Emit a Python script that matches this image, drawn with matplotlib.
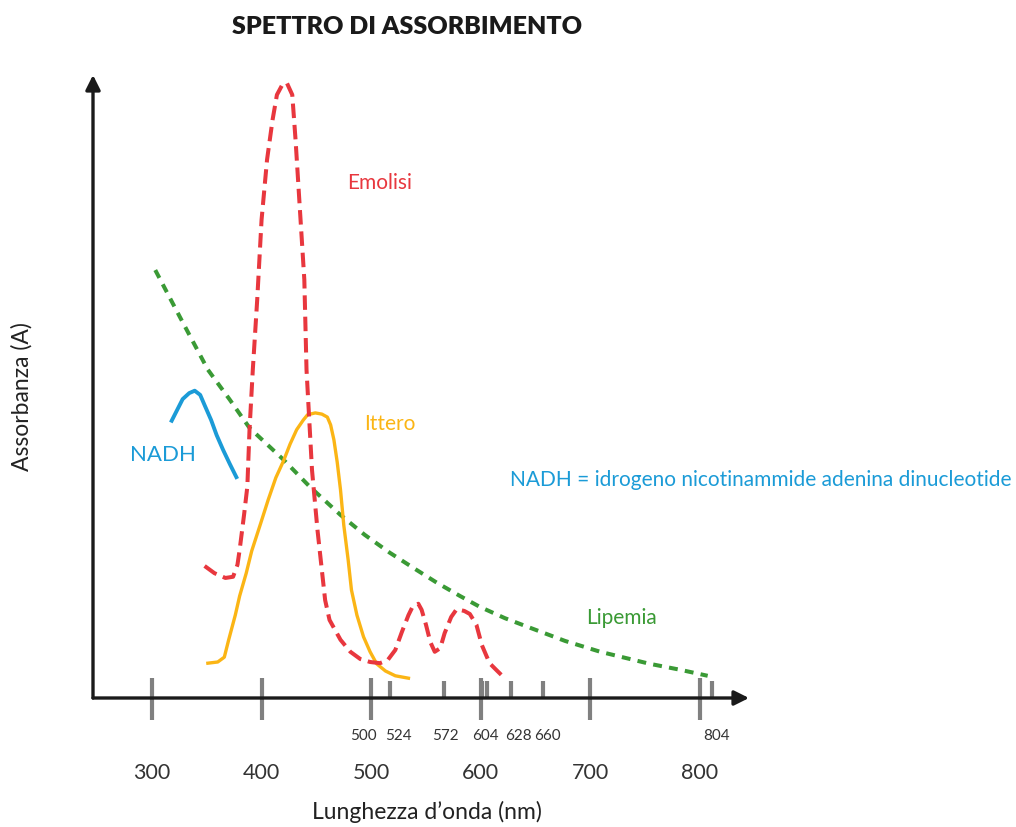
import matplotlib
matplotlib.use("Agg")
import matplotlib.pyplot as plt

plt.rcParams['font.family'] = ['Lato', 'DejaVu Sans']

# --- data (x in nm, y in arbitrary absorbance units) ---
emolisi_x = [348, 357, 367, 374, 378, 380, 384, 387, 389, 392, 396, 400, 405, 410, 414, 419, 423,
             428, 431, 435, 439, 441, 446, 451, 455, 458, 462, 472, 481, 490, 499, 508, 515, 522,
             528, 534, 538, 543, 546, 550, 554, 558, 563, 567, 573, 578, 585, 590, 596, 601, 608,
             614, 619]
emolisi_y = [0.22, 0.208, 0.20, 0.202, 0.222, 0.247, 0.305, 0.352, 0.447, 0.547, 0.663, 0.797, 0.897,
             0.963, 1.005, 1.022, 1.025, 1.005, 0.93, 0.813, 0.697, 0.547, 0.38, 0.28, 0.213, 0.163,
             0.13, 0.097, 0.077, 0.065, 0.06, 0.058, 0.063, 0.08, 0.11, 0.138, 0.153, 0.157, 0.147,
             0.122, 0.093, 0.077, 0.083, 0.108, 0.135, 0.148, 0.145, 0.14, 0.122, 0.088, 0.058,
             0.047, 0.038]

ittero_x = [351, 360, 366, 370, 376, 380, 386, 391, 399, 406, 413, 420, 426, 432, 438, 442, 449, 455,
            460, 463, 466, 469, 472, 475, 479, 482, 487, 493, 499, 505, 513, 522, 534]
ittero_y = [0.058, 0.06, 0.068, 0.097, 0.138, 0.17, 0.208, 0.245, 0.29, 0.33, 0.367, 0.395, 0.423,
            0.447, 0.463, 0.472, 0.475, 0.473, 0.468, 0.455, 0.43, 0.393, 0.347, 0.288, 0.23, 0.18,
            0.138, 0.102, 0.077, 0.057, 0.045, 0.037, 0.033]

nadh_x = [318, 323, 328, 334, 339, 344, 348, 354, 359, 365, 371, 377]
nadh_y = [0.462, 0.48, 0.498, 0.508, 0.512, 0.505, 0.488, 0.463, 0.438, 0.413, 0.39, 0.368]

lipemia_x = [303, 326, 351, 371, 389, 420, 444, 472, 494, 517, 540, 560, 581, 599, 622, 645, 677,
             709, 754, 782, 807]
lipemia_y = [0.713, 0.633, 0.547, 0.497, 0.45, 0.397, 0.352, 0.305, 0.272, 0.242, 0.215, 0.192, 0.17,
             0.152, 0.133, 0.117, 0.095, 0.077, 0.057, 0.047, 0.037]

major_ticks = [300, 400, 500, 600, 700, 800]
minor_ticks = [517, 566, 601, 606, 628, 657, 811]
minor_label_pos = [493, 525, 568, 604, 634, 661, 815]
minor_labels = ['500', '524', '572', '604', '628', '660', '804']

RED = '#e8373e'
YELLOW = '#fbb515'
BLUE = '#1b9bd7'
GREEN = '#3a9a35'
GREY = '#808080'
DARK = '#1a1a1a'
TXT = '#333333'

fig = plt.figure(figsize=(10.16, 8.27), dpi=100)
ax = fig.add_axes([93 / 1016, 129 / 827, 656 / 1016, 623 / 827])
ax.set_xlim(246.2, 844.7)
ax.set_ylim(0, 1.038)
ax.axis('off')

# axes with arrow heads
arrow = dict(arrowstyle='-|>', lw=2.4, color=DARK, mutation_scale=22, shrinkA=0, shrinkB=0)
ax.annotate('', xy=(1, 0), xytext=(0, 0), xycoords='axes fraction', arrowprops=arrow)
ax.annotate('', xy=(0, 1), xytext=(0, 0), xycoords='axes fraction', arrowprops=arrow)

# tick marks
ax.vlines(major_ticks, -0.037, 0.033, color=GREY, lw=3, clip_on=False, zorder=1)
ax.vlines(minor_ticks, 0, 0.028, color=GREY, lw=3, clip_on=False, zorder=1)
for t in major_ticks:
    ax.text(t, -0.125, str(t), ha='center', va='center', fontsize=15.5, color=TXT)
for p, lab in zip(minor_label_pos, minor_labels):
    ax.text(p, -0.063, lab, ha='center', va='center', fontsize=11, color=TXT)

# curves
ax.plot(lipemia_x, lipemia_y, color=GREEN, lw=2.9, dashes=(2.2, 1.8), zorder=3)
ax.plot(ittero_x, ittero_y, color=YELLOW, lw=2.4, zorder=4)
ax.plot(nadh_x, nadh_y, color=BLUE, lw=2.8, zorder=4)
ax.plot(emolisi_x, emolisi_y, color=RED, lw=2.9, dashes=(3.6, 1.7), zorder=5)

# labels
ax.text(508, 0.858, 'Emolisi', color=RED, fontsize=15, ha='center', va='center')
ax.text(517, 0.457, 'Ittero', color=YELLOW, fontsize=15, ha='center', va='center')
ax.text(310, 0.405, 'NADH', color=BLUE, fontsize=16, ha='center', va='center')
ax.text(728, 0.133, 'Lipemia', color=GREEN, fontsize=15, ha='center', va='center')
ax.text(626.6, 0.363, 'NADH = idrogeno nicotinammide adenina dinucleotide', color=BLUE,
        fontsize=15, ha='left', va='center')

ax.text(551, -0.19, 'Lunghezza d\u2019onda (nm)', ha='center', va='center', fontsize=16.5,
        color='#222222')
fig.text(22 / 1016, 1 - 397 / 827, 'Assorbanza (A)', rotation=90, ha='center', va='center',
         fontsize=16.5, color='#222222')
fig.text(407 / 1016, 1 - 27 / 827, 'SPETTRO DI ASSORBIMENTO', ha='center', va='center',
         fontsize=18, fontweight='heavy', color='#1a1a1a')

fig.savefig('out.png', dpi=100)
